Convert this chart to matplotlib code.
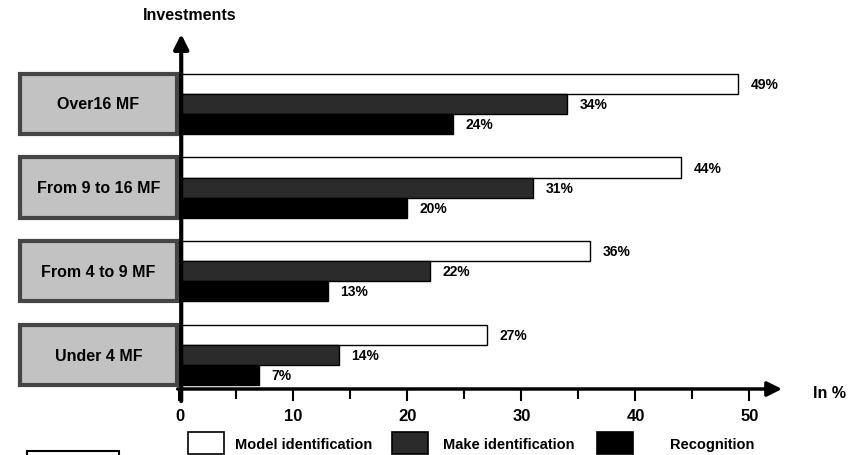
import matplotlib
matplotlib.use("Agg")
import matplotlib.pyplot as plt
from matplotlib.patches import Rectangle

plt.rcParams['font.family'] = ['Liberation Sans', 'DejaVu Sans']
plt.rcParams['font.weight'] = 'bold'

# data, bottom group first
categories = ['Under 4 MF', 'From 4 to 9 MF', 'From 9 to 16 MF', 'Over16 MF']
model_id = [27, 36, 44, 49]
make_id = [14, 22, 31, 34]
recognition = [7, 13, 20, 24]
series_names = ['Model identification', 'Make identification', 'Recognition']
xticks_major = [0, 10, 20, 30, 40, 50]
xticks_minor = [5, 15, 25, 35, 45]

W, H = 862, 456
fig = plt.figure(figsize=(W / 100, H / 100), dpi=100)


def fx(px):
    return px / W


def fy(py):
    return 1 - py / H


# axes placed so that 0 sits on the vertical arrow and the arrows end at the axes edges
ax = fig.add_axes([fx(179.5), fy(390), fx(782) - fx(179.5), fy(35) - fy(390)])
ax.set_xlim(0, (782 - 179.5) / 11.4)
ax.set_ylim(-0.406, 3.835)
for s in ax.spines.values():
    s.set_visible(False)

h = 0.24
ys = list(range(len(categories)))
colors = ['white', '#2b2b2b', 'black']
vals = [model_id, make_id, recognition]
offs = [h, 0, -h]

for v, c, o in zip(vals, colors, offs):
    ypos = [y + o for y in ys]
    ax.barh(ypos, v, height=h, color=c, edgecolor='black', linewidth=1.0, zorder=2)
    for yy, val in zip(ypos, v):
        ax.annotate(f'{val}%', (val, yy), xytext=(9, 0), textcoords='offset points',
                    ha='left', va='center', fontsize=10, fontweight='bold')

# category boxes on the left
for y, name in zip(ys, categories):
    ax.add_patch(Rectangle((-14.0, y - 1.5 * h), 13.75, 3 * h, facecolor='#c2c2c2',
                           edgecolor='#454545', linewidth=3, clip_on=False, zorder=3))
    ax.text(-7.1, y, name, ha='center', va='center', fontsize=11.5,
            fontweight='bold', clip_on=False, zorder=4)

# axes arrows
ax.annotate('', xy=(1, 0), xytext=(-0.003, 0), xycoords='axes fraction',
            arrowprops=dict(arrowstyle='-|>', lw=2.5, color='black', mutation_scale=22,
                            shrinkA=0, shrinkB=0), annotation_clip=False)
ax.annotate('', xy=(0.15, 1), xytext=(0.15, -0.034),
            xycoords=('data', 'axes fraction'), textcoords=('data', 'axes fraction'),
            arrowprops=dict(arrowstyle='-|>', lw=3, color='black', mutation_scale=22,
                            shrinkA=0, shrinkB=0), annotation_clip=False)

ax.set_yticks([])
ax.set_xticks(xticks_major)
ax.set_xticks(xticks_minor, minor=True)
ax.tick_params(axis='x', which='both', direction='out', length=8.5, width=1.5, pad=5)
ax.tick_params(axis='x', which='minor', length=7)
for lab in ax.get_xticklabels():
    lab.set_fontsize(12)
    lab.set_fontweight('bold')

fig.text(fx(190), fy(16), 'Investments', ha='center', va='center', fontsize=11.5,
         fontweight='bold')
fig.text(fx(813), fy(394), 'In %', ha='left', va='center', fontsize=11.5,
         fontweight='bold')

# legend drawn by hand along the bottom
legend_boxes = [188, 392, 597]
legend_text_x = [235, 443, 670]
for bx, tx, c, name in zip(legend_boxes, legend_text_x, colors, series_names):
    fig.add_artist(Rectangle((fx(bx), fy(455)), fx(36), 22 / H, facecolor=c,
                             edgecolor='black', linewidth=1.2, transform=fig.transFigure))
    fig.text(fx(tx), fy(445), name, ha='left', va='center', fontsize=10.5,
             fontweight='bold')

# partly visible frame at the bottom left
fig.add_artist(Rectangle((fx(27), fy(462)), fx(92), 10 / H, facecolor='none',
                         edgecolor='black', linewidth=1.5, transform=fig.transFigure))

fig.savefig('out.png', dpi=100)
